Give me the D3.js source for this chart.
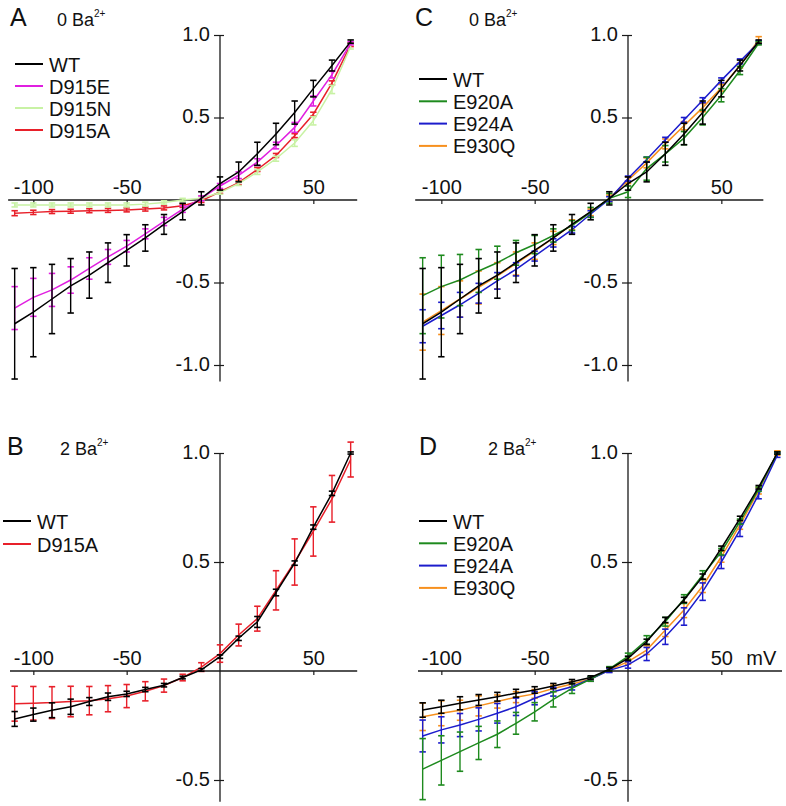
<!DOCTYPE html>
<html><head><meta charset="utf-8">
<script src="https://cdn.jsdelivr.net/npm/d3@7"></script>
<style>
html,body{margin:0;padding:0;background:#fff;}
svg{display:block;font-family:"Liberation Sans",Arial,sans-serif;}
</style></head>
<body>
<svg id="chart" width="786" height="806"></svg>
<script>
// ---------- DATA ----------
const voltsTo70 = [-110,-100,-90,-80,-70,-60,-50,-40,-30,-20,-10,0,10,20,30,40,50,60,70];
const voltsTo80 = [-110,-100,-90,-80,-70,-60,-50,-40,-30,-20,-10,0,10,20,30,40,50,60,70,80];

// Panel A / C (0 Ba2+) — WT is the same data set
const wt0 =      [-0.75,-0.68,-0.60,-0.52,-0.455,-0.38,-0.305,-0.23,-0.148,-0.07,0.01,0.10,0.17,0.28,0.40,0.53,0.675,0.815,0.96];
const wt0Err =   [0.335,0.27,0.21,0.165,0.14,0.12,0.095,0.08,0.06,0.05,0.04,0.04,0.06,0.07,0.065,0.07,0.05,0.033,0.01];
const d915E0 =   [-0.655,-0.59,-0.545,-0.485,-0.415,-0.345,-0.28,-0.205,-0.13,-0.055,0.01,0.085,0.15,0.23,0.33,0.44,0.60,0.76,0.95];
const d915E0Err =[0.13,0.115,0.10,0.08,0.065,0.045,0.035,0.03,0.025,0.02,0.015,0.015,0.02,0.02,0.02,0.03,0.03,0.02,0.01];
const d915N0 =   [-0.03,-0.03,-0.03,-0.03,-0.03,-0.03,-0.03,-0.025,-0.015,0.0,0.01,0.045,0.10,0.17,0.25,0.345,0.48,0.67,0.93];
const d915N0Err =[0.012,0.012,0.012,0.012,0.012,0.012,0.012,0.012,0.01,0.01,0.01,0.01,0.012,0.015,0.015,0.02,0.025,0.025,0.015];
const d915A0 =   [-0.08,-0.075,-0.07,-0.068,-0.065,-0.063,-0.06,-0.055,-0.048,-0.035,-0.005,0.05,0.105,0.185,0.27,0.39,0.52,0.71,0.94];
const d915A0Err =[0.015,0.013,0.012,0.012,0.012,0.012,0.012,0.012,0.012,0.01,0.01,0.01,0.012,0.012,0.012,0.012,0.012,0.012,0.01];
const e920A0 =   [-0.58,-0.525,-0.485,-0.43,-0.38,-0.32,-0.27,-0.215,-0.155,-0.075,0.01,0.05,0.19,0.28,0.375,0.50,0.635,0.785,0.95];
const e920A0Err =[0.23,0.19,0.155,0.13,0.10,0.075,0.055,0.04,0.03,0.03,0.03,0.035,0.07,0.05,0.04,0.045,0.04,0.025,0.01];
const e924A0 =   [-0.765,-0.70,-0.635,-0.565,-0.49,-0.42,-0.34,-0.26,-0.18,-0.085,0.005,0.13,0.245,0.365,0.485,0.605,0.725,0.84,0.955];
const e924A0Err =[0.10,0.08,0.075,0.06,0.05,0.04,0.03,0.025,0.02,0.02,0.015,0.015,0.015,0.015,0.015,0.015,0.015,0.015,0.01];
const e930Q0 =   [-0.74,-0.67,-0.60,-0.53,-0.46,-0.385,-0.31,-0.23,-0.15,-0.075,0.01,0.12,0.225,0.34,0.45,0.56,0.68,0.815,0.97];
const e930Q0Err =[0.17,0.145,0.11,0.10,0.08,0.07,0.05,0.04,0.03,0.02,0.02,0.02,0.03,0.03,0.025,0.025,0.02,0.015,0.02];

// Panel B (2 Ba2+)
const wt2B =     [-0.22,-0.20,-0.18,-0.164,-0.14,-0.118,-0.105,-0.085,-0.065,-0.03,0.005,0.066,0.15,0.225,0.36,0.495,0.66,0.815,1.0];
const wt2BErr =  [0.034,0.03,0.034,0.035,0.018,0.017,0.012,0.01,0.008,0.006,0.006,0.008,0.01,0.025,0.015,0.01,0.01,0.01,0.005];
const d915A2 =   [-0.15,-0.148,-0.145,-0.14,-0.136,-0.127,-0.115,-0.093,-0.067,-0.03,0.018,0.08,0.165,0.24,0.37,0.50,0.64,0.79,0.97];
const d915A2Err =[0.08,0.077,0.073,0.07,0.065,0.06,0.053,0.044,0.03,0.015,0.02,0.04,0.05,0.057,0.09,0.106,0.113,0.107,0.08];

// Panel D (2 Ba2+)
const wt2D =     [-0.179,-0.164,-0.148,-0.133,-0.118,-0.102,-0.087,-0.069,-0.049,-0.03,0.008,0.058,0.134,0.234,0.326,0.433,0.563,0.70,0.843,1.0];
const wt2DErr =  [0.033,0.03,0.03,0.025,0.02,0.018,0.015,0.012,0.01,0.008,0.008,0.01,0.012,0.012,0.012,0.012,0.01,0.01,0.008,0.005];
const e920A2 =   [-0.45,-0.41,-0.37,-0.33,-0.29,-0.24,-0.187,-0.13,-0.08,-0.037,0.01,0.067,0.142,0.226,0.33,0.44,0.547,0.685,0.834,1.0];
const e920A2Err =[0.14,0.113,0.09,0.076,0.061,0.05,0.042,0.035,0.023,0.01,0.01,0.015,0.02,0.02,0.02,0.02,0.015,0.012,0.01,0.005];
const e924A2 =   [-0.298,-0.27,-0.248,-0.222,-0.194,-0.164,-0.125,-0.095,-0.072,-0.037,0.003,0.028,0.078,0.157,0.25,0.364,0.50,0.647,0.81,0.99];
const e924A2Err =[0.073,0.06,0.053,0.053,0.045,0.04,0.03,0.02,0.015,0.01,0.01,0.015,0.03,0.035,0.04,0.04,0.03,0.03,0.02,0.01];
const e930Q2 =   [-0.21,-0.194,-0.18,-0.16,-0.14,-0.12,-0.105,-0.08,-0.06,-0.037,0.005,0.043,0.096,0.188,0.28,0.39,0.524,0.67,0.827,1.0];
const e930Q2Err =[0.063,0.057,0.046,0.046,0.03,0.025,0.02,0.015,0.012,0.01,0.01,0.012,0.02,0.03,0.035,0.03,0.025,0.02,0.015,0.01];

const xTicks = [-100,-50,50];
const yTicks0 = [1.0,0.5,-0.5,-1.0];
const yTicks2 = [1.0,0.5,-0.5];

const colors = {WT:"#000000", D915E:"#e01fe0", D915N:"#c8f2a4", D915A:"#e8202a",
                E920A:"#1e8a1e", E924A:"#1c1ccc", E930Q:"#f7901e"};

// ---------- PANELS ----------
const panels = [
  {letter:"A", conc:"0", ox:220, oy:200, unit:165, xExt:[-113.5,73.5], yExt:[-1.1,1.0], yTicks:yTicks0,
   letterX:10, concX:57, titleY:26, legX:15, legY:64, legStep:22,
   series:[{name:"WT",x:voltsTo70,y:wt0,e:wt0Err},{name:"D915E",x:voltsTo70,y:d915E0,e:d915E0Err},
           {name:"D915N",x:voltsTo70,y:d915N0,e:d915N0Err},{name:"D915A",x:voltsTo70,y:d915A0,e:d915A0Err}]},
  {letter:"B", conc:"2", ox:220, oy:671, unit:218, xExt:[-112.5,73.5], yExt:[-0.6,1.0], yTicks:yTicks2,
   letterX:7, concX:60, titleY:455, legX:3, legY:521, legStep:23,
   series:[{name:"WT",x:voltsTo70,y:wt2B,e:wt2BErr},{name:"D915A",x:voltsTo70,y:d915A2,e:d915A2Err}]},
  {letter:"C", conc:"0", ox:628, oy:200, unit:165, xExt:[-114,72.5], yExt:[-1.1,1.0], yTicks:yTicks0,
   letterX:415, concX:469, titleY:26, legX:419, legY:79, legStep:22.3,
   series:[{name:"WT",x:voltsTo70,y:wt0,e:wt0Err},{name:"E920A",x:voltsTo70,y:e920A0,e:e920A0Err},
           {name:"E924A",x:voltsTo70,y:e924A0,e:e924A0Err},{name:"E930Q",x:voltsTo70,y:e930Q0,e:e930Q0Err}]},
  {letter:"D", conc:"2", ox:628, oy:671, unit:218, xExt:[-112.5,82.5], yExt:[-0.6,1.0], yTicks:yTicks2,
   letterX:419, concX:488, titleY:455, legX:419, legY:521, legStep:22.3, unitLabel:"mV",
   series:[{name:"WT",x:voltsTo80,y:wt2D,e:wt2DErr},{name:"E920A",x:voltsTo80,y:e920A2,e:e920A2Err},
           {name:"E924A",x:voltsTo80,y:e924A2,e:e924A2Err},{name:"E930Q",x:voltsTo80,y:e930Q2,e:e930Q2Err}]}
];

const svg = d3.select("#chart");
const axisColor = "#1a1a1a";
const fmtY = d => d.toFixed(1);

panels.forEach(p => {
  const x = d3.scaleLinear().domain([-100,50]).range([p.ox - 186.67, p.ox + 93.33]);
  const y = d3.scaleLinear().domain([0,1]).range([p.oy, p.oy - p.unit]);
  const g = svg.append("g");

  // x axis
  const xa = g.append("g").attr("transform", `translate(0,${p.oy})`)
    .call(d3.axisBottom(x).tickValues(xTicks).tickSize(4).tickFormat(d => String(d)));
  xa.select(".domain").remove();
  xa.selectAll(".tick line").attr("stroke", axisColor).attr("stroke-width", 1.2);
  xa.selectAll(".tick text").attr("y", -6).attr("dy", 0).attr("font-size", 20)
    .attr("fill", "#111").attr("font-family", "Liberation Sans, Arial, sans-serif");
  g.append("line").attr("x1", x(p.xExt[0])).attr("x2", x(p.xExt[1]))
    .attr("y1", p.oy).attr("y2", p.oy).attr("stroke", axisColor).attr("stroke-width", 1.3);
  if (p.unitLabel) {
    g.append("text").attr("x", x(50) + 25).attr("y", p.oy - 6).attr("font-size", 20).attr("fill", "#111").text(p.unitLabel);
  }

  // y axis
  const ya = g.append("g").attr("transform", `translate(${p.ox},0)`)
    .call(d3.axisLeft(y).tickValues(p.yTicks).tickSize(6).tickFormat(fmtY));
  ya.select(".domain").remove();
  ya.selectAll(".tick line").attr("x1", 4).attr("x2", -6).attr("stroke", axisColor).attr("stroke-width", 1.2);
  ya.selectAll(".tick text").attr("x", -10).attr("dy", "0.27em").attr("font-size", 20)
    .attr("fill", "#111").attr("font-family", "Liberation Sans, Arial, sans-serif");
  g.append("line").attr("x1", p.ox).attr("x2", p.ox)
    .attr("y1", y(p.yExt[1])).attr("y2", y(p.yExt[0])).attr("stroke", axisColor).attr("stroke-width", 1.3);

  // series (WT drawn last so it sits on top)
  const line = d3.line().x(d => x(d.v)).y(d => y(d.m));
  p.series.slice().reverse().forEach(s => {
    const pts = s.x.map((v, i) => ({v, m: s.y[i], e: s.e[i]}));
    const c = colors[s.name];
    const sg = g.append("g");
    sg.append("path").datum(pts).attr("d", line).attr("fill", "none")
      .attr("stroke", c).attr("stroke-width", 1.5);
    const eb = sg.selectAll(".eb").data(pts).join("g");
    eb.append("line").attr("x1", d => x(d.v)).attr("x2", d => x(d.v))
      .attr("y1", d => y(d.m + d.e)).attr("y2", d => y(d.m - d.e))
      .attr("stroke", c).attr("stroke-width", 1.4);
    [1, -1].forEach(sgn => {
      eb.append("line").attr("x1", d => x(d.v) - 3.2).attr("x2", d => x(d.v) + 3.2)
        .attr("y1", d => y(d.m + sgn * d.e)).attr("y2", d => y(d.m + sgn * d.e))
        .attr("stroke", c).attr("stroke-width", 1.6);
    });
  });

  // titles
  g.append("text").attr("x", p.letterX).attr("y", p.titleY).attr("font-size", 25).attr("fill", "#111").text(p.letter);
  const t = g.append("text").attr("x", p.concX).attr("y", p.titleY).attr("font-size", 18).attr("fill", "#111");
  t.append("tspan").text(p.conc + " Ba");
  t.append("tspan").attr("font-size", 10).attr("dy", -9).text("2+");

  // legend
  const lg = g.append("g");
  p.series.forEach((s, i) => {
    const ly = p.legY + i * p.legStep;
    lg.append("line").attr("x1", p.legX).attr("x2", p.legX + 28).attr("y1", ly).attr("y2", ly)
      .attr("stroke", colors[s.name]).attr("stroke-width", 2);
    lg.append("text").attr("x", p.legX + 34).attr("y", ly + 7.5).attr("font-size", 20).attr("fill", "#111").text(s.name);
  });
});
</script>
</body></html>
